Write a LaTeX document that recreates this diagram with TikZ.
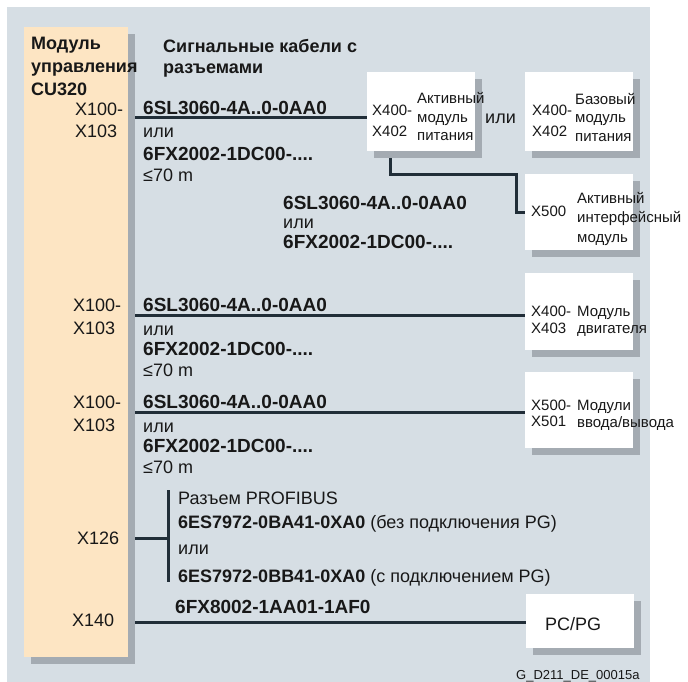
\documentclass[tikz,border=0pt]{standalone}
\usepackage{fontspec}
\setmainfont{Liberation Sans}
\usepackage{tikz}
\usetikzlibrary{shadows}
\pgfdeclarelayer{bglayer}
\pgfdeclarelayer{edgelayer}
\pgfdeclarelayer{nodelayer}
\pgfsetlayers{bglayer,edgelayer,nodelayer,main}
\definecolor{panelgray}{RGB}{214,222,228}
\definecolor{shadowgray}{RGB}{164,171,178}
\definecolor{cuorange}{RGB}{253,229,195}
\definecolor{cabledark}{RGB}{33,46,56}
\definecolor{textdark}{RGB}{24,24,24}
\tikzstyle{none}=[inner sep=0pt]
\tikzstyle{cable}=[draw=cabledark, line width=3pt]
\tikzstyle{module}=[rectangle, fill=white, inner sep=0pt, minimum width=108pt, general shadow={fill=shadowgray, shadow xshift=7pt, shadow yshift=-7pt}]
\tikzstyle{cu}=[module, fill=cuorange, minimum width=104pt]
\tikzstyle{txt}=[inner sep=0pt, anchor=base west, text=textdark, font=\fontsize{18}{22}\selectfont]
\tikzstyle{btxt}=[txt, font=\fontsize{19}{22}\selectfont\bfseries]
\tikzstyle{boxtxt}=[txt, font=\fontsize{15}{18}\selectfont]

\begin{document}
\begin{tikzpicture}[x=1pt, y=-1pt]
	\useasboundingbox (0,0) rectangle (688,681);
	\begin{pgfonlayer}{bglayer}
		\fill [panelgray] (7,7) rectangle (650,690);
	\end{pgfonlayer}
	\begin{pgfonlayer}{nodelayer}
		\node [style=cu, minimum height=630pt] (0) at (76, 342) {};
		\node [style=module, minimum height=79pt] (1) at (421, 111.5) {};
		\node [style=module, minimum height=79pt] (2) at (579, 111.5) {};
		\node [style=module, minimum height=76pt] (3) at (579, 212) {};
		\node [style=module, minimum height=77pt] (4) at (579, 311.5) {};
		\node [style=module, minimum height=76pt] (5) at (579, 410) {};
		\node [style=module, minimum height=54pt] (6) at (580, 621) {};
		\node [style=none] (10) at (128, 117.5) {};
		\node [style=none] (11) at (128, 315) {};
		\node [style=none] (12) at (128, 412) {};
		\node [style=none] (13) at (128, 538) {};
		\node [style=none] (14) at (168, 538) {};
		\node [style=none] (15) at (168, 490) {};
		\node [style=none] (16) at (168, 582) {};
		\node [style=none] (17) at (128, 622) {};
		\node [style=none] (18) at (390, 151) {};
		\node [style=none] (19) at (516, 174.5) {};
		% CU320
		\node [style=btxt, font=\fontsize{18}{22}\selectfont\bfseries] (20) at (31, 49.5) {Модуль};
		\node [style=btxt, font=\fontsize{18}{22}\selectfont\bfseries] (21) at (31, 72) {управления};
		\node [style=btxt, font=\fontsize{18}{22}\selectfont\bfseries] (22) at (31, 95) {CU320};
		\node [style=btxt, font=\fontsize{18}{22}\selectfont\bfseries] (23) at (163, 52) {Сигнальные кабели с};
		\node [style=btxt, font=\fontsize{18}{22}\selectfont\bfseries] (24) at (163, 73) {разъемами};
		\node [style=txt] (25) at (75, 115) {X100-};
		\node [style=txt] (26) at (75, 137) {X103};
		\node [style=txt] (27) at (73, 311.7) {X100-};
		\node [style=txt] (28) at (73, 334) {X103};
		\node [style=txt] (29) at (73, 408.7) {X100-};
		\node [style=txt] (30) at (73, 431) {X103};
		\node [style=txt] (31) at (77, 544) {X126};
		\node [style=txt] (32) at (72, 626) {X140};
		% cables
		\node [style=btxt] (40) at (143, 114) {6SL3060-4A..0-0AA0};
		\node [style=txt] (41) at (143, 137) {или};
		\node [style=btxt] (42) at (143, 160) {6FX2002-1DC00-....};
		\node [style=txt] (43) at (143, 181) {≤70 m};
		\node [style=btxt] (44) at (283, 209) {6SL3060-4A..0-0AA0};
		\node [style=txt] (45) at (283, 228.5) {или};
		\node [style=btxt] (46) at (283, 248.5) {6FX2002-1DC00-....};
		\node [style=btxt] (47) at (143, 311) {6SL3060-4A..0-0AA0};
		\node [style=txt] (48) at (143, 335) {или};
		\node [style=btxt] (49) at (143, 355.7) {6FX2002-1DC00-....};
		\node [style=txt] (50) at (143, 376) {≤70 m};
		\node [style=btxt] (51) at (143, 408) {6SL3060-4A..0-0AA0};
		\node [style=txt] (52) at (143, 432) {или};
		\node [style=btxt] (53) at (143, 452.7) {6FX2002-1DC00-....};
		\node [style=txt] (54) at (143, 473) {≤70 m};
		\node [style=txt] (55) at (178, 504) {Разъем PROFIBUS};
		\node [style=txt] (56) at (178, 528) {\textbf{6ES7972-0BA41-0XA0} (без подключения PG)};
		\node [style=txt] (57) at (178, 554) {или};
		\node [style=txt] (58) at (178, 582) {\textbf{6ES7972-0BB41-0XA0} (с подключением PG)};
		\node [style=btxt] (59) at (175, 613) {6FX8002-1AA01-1AF0};
		% modules
		\node [style=boxtxt] (60) at (372, 115) {X400-};
		\node [style=boxtxt] (61) at (372, 136) {X402};
		\node [style=boxtxt] (62) at (417, 103.5) {Активный};
		\node [style=boxtxt] (63) at (417, 122) {модуль};
		\node [style=boxtxt] (64) at (417, 140.5) {питания};
		\node [style=txt] (65) at (485, 123.3) {или};
		\node [style=boxtxt] (66) at (532, 115) {X400-};
		\node [style=boxtxt] (67) at (532, 136) {X402};
		\node [style=boxtxt] (68) at (575, 104.5) {Базовый};
		\node [style=boxtxt] (69) at (575, 122.5) {модуль};
		\node [style=boxtxt] (70) at (575, 141) {питания};
		\node [style=boxtxt] (71) at (531, 216.7) {X500};
		\node [style=boxtxt] (72) at (577, 203.3) {Активный};
		\node [style=boxtxt] (73) at (577, 222.8) {интерфейсный};
		\node [style=boxtxt] (74) at (577, 242) {модуль};
		\node [style=boxtxt] (75) at (531, 316.7) {X400-};
		\node [style=boxtxt] (76) at (531, 333) {X403};
		\node [style=boxtxt] (77) at (577, 316.7) {Модуль};
		\node [style=boxtxt] (78) at (577, 333.5) {двигателя};
		\node [style=boxtxt] (79) at (531, 410) {X500-};
		\node [style=boxtxt] (80) at (531, 426.7) {X501};
		\node [style=boxtxt] (81) at (577, 410) {Модули};
		\node [style=boxtxt] (82) at (577, 427) {ввода/вывода};
		\node [style=txt] (83) at (545, 630) {PC/PG};
		\node [style=txt, font=\fontsize{13}{15}\selectfont] (84) at (516, 679) {G\_D211\_DE\_00015a};
	\end{pgfonlayer}
	\begin{pgfonlayer}{edgelayer}
		\draw [style=cable] (10.center) to (10.center -| 1.west);
		\draw [style=cable] (18.center) |- (19.center) |- (3.west);
		\draw [style=cable] (11.center) to (11.center -| 4.west);
		\draw [style=cable] (12.center) to (12.center -| 5.west);
		\draw [style=cable] (13.center) to (14.center);
		\draw [style=cable] (15.center) to (16.center);
		\draw [style=cable] (17.center) to (17.center -| 6.west);
	\end{pgfonlayer}
\end{tikzpicture}
\end{document}
